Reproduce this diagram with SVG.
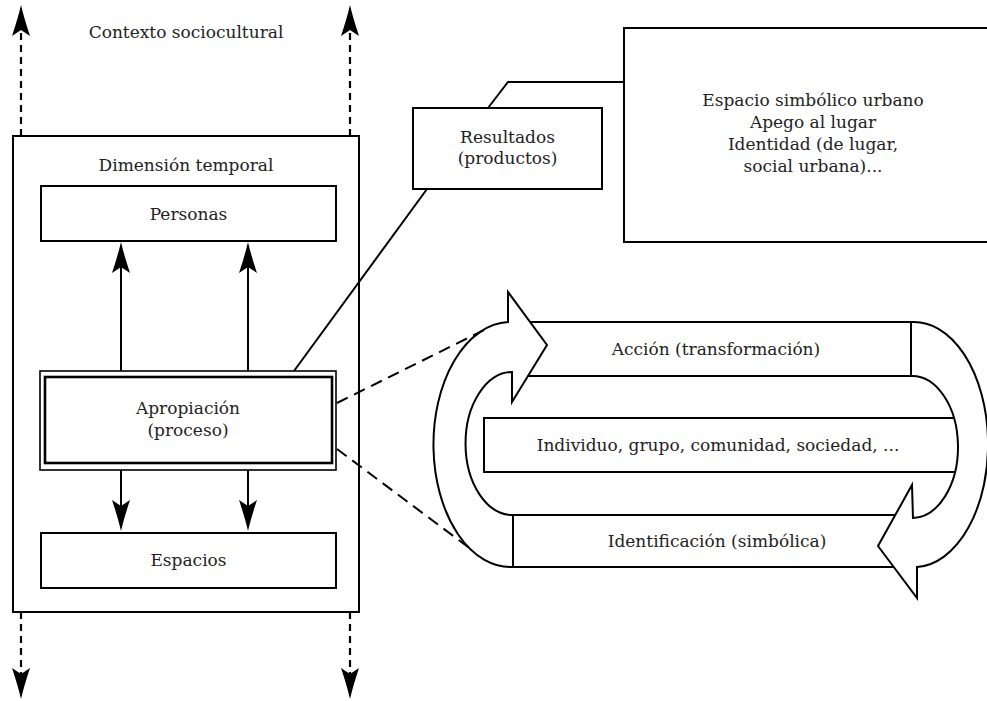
<svg xmlns="http://www.w3.org/2000/svg" width="987" height="701" viewBox="0 0 987 701">
<style>
text{font-family:"DejaVu Serif","Liberation Serif",serif;font-size:17px;fill:#222;text-anchor:middle}
.box{fill:#fff;stroke:#000;stroke-width:2}
.ln{fill:none;stroke:#000;stroke-width:2}
.dash{fill:none;stroke:#000;stroke-width:2.2;stroke-dasharray:7 5}
.dash2{fill:none;stroke:#000;stroke-width:2;stroke-dasharray:12 7}
.shape{fill:#fff;stroke:#000;stroke-width:2;stroke-linejoin:miter}
</style>
<defs>
<marker id="ah" markerUnits="userSpaceOnUse" viewBox="-8 -10 34 20" refX="0" refY="0" markerWidth="34" markerHeight="20" orient="auto" overflow="visible">
<path d="M25,0 Q12,-3 -6,-9 L0,0 L-6,9 Q12,3 25,0 Z" fill="#000" stroke="none"/>
</marker>
</defs>
<rect width="987" height="701" fill="#fff"/>

<g id="contexto">
<text x="186" y="38">Contexto sociocultural</text>
</g>

<g id="dimension-temporal">
<rect class="box" x="13" y="136" width="346" height="476"/>
<text x="186" y="171">Dimensión temporal</text>
</g>

<g id="personas">
<rect class="box" x="41" y="186" width="295" height="55"/>
<text x="188.5" y="220">Personas</text>
</g>

<g id="apropiacion">
<rect x="40" y="371" width="296" height="99" fill="#fff" stroke="#000" stroke-width="1.6"/>
<rect x="45" y="377" width="287" height="86" fill="none" stroke="#000" stroke-width="2.6"/>
<text x="188" y="414">Apropiación</text>
<text x="188" y="436">(proceso)</text>
</g>

<g id="espacios">
<rect class="box" x="41" y="533" width="295" height="55"/>
<text x="188.5" y="566">Espacios</text>
</g>

<g id="resultados">
<rect class="box" x="413" y="108" width="189" height="81"/>
<text x="507.5" y="143">Resultados</text>
<text x="507.5" y="164">(productos)</text>
</g>

<g id="productos">
<rect class="box" x="624" y="28" width="380" height="214"/>
<text x="813" y="106">Espacio simbólico urbano</text>
<text x="813" y="128">Apego al lugar</text>
<text x="813" y="150">Identidad (de lugar,</text>
<text x="813" y="172">social urbana)...</text>
</g>

<g id="ciclo">
<g id="individuo">
<path d="M955,418 H484 V472 H955" fill="#fff" stroke="#000" stroke-width="2"/>
<text x="718" y="451">Individuo, grupo, comunidad, sociedad, ...</text>
</g>
<g id="accion">
<rect class="box" x="515" y="322" width="396" height="54"/>
<text x="716" y="355">Acción (transformación)</text>
</g>
<g id="identificacion">
<rect class="box" x="513" y="515" width="395" height="52"/>
<text x="717" y="547">Identificación (simbólica)</text>
</g>
<g id="flecha-izquierda">
<path class="shape" d="M508,322 L508,292 L547,345 L512,402 L512,372 A47,71.5 0 0 0 513,515 L513,567 A77,122.5 0 0 1 508,322 Z"/>
</g>
<g id="flecha-derecha">
<path class="shape" d="M911,322 A74,122.5 0 0 1 917,567 L917,598 L878,546 L912,485 L913,518 A46,71 0 0 0 911,376 Z"/>
</g>
</g>

<g id="connectors">
<line class="dash" x1="21" y1="136" x2="21" y2="30" marker-end="url(#ah)"/>
<line class="dash" x1="350" y1="136" x2="350" y2="30" marker-end="url(#ah)"/>
<line class="dash" x1="21" y1="612" x2="21" y2="674" marker-end="url(#ah)"/>
<line class="dash" x1="350" y1="612" x2="350" y2="674" marker-end="url(#ah)"/>
<line class="ln" x1="121" y1="371" x2="121" y2="267" marker-end="url(#ah)"/>
<line class="ln" x1="248" y1="371" x2="248" y2="267" marker-end="url(#ah)"/>
<line class="ln" x1="121" y1="470" x2="121" y2="506" marker-end="url(#ah)"/>
<line class="ln" x1="248" y1="470" x2="248" y2="506" marker-end="url(#ah)"/>
<line class="ln" x1="427" y1="189" x2="294" y2="371"/>
<polyline class="ln" points="488,108 508,82 624,82"/>
<line class="dash2" x1="337" y1="403" x2="488" y2="328"/>
<line class="dash2" x1="337" y1="449" x2="472" y2="550"/>
</g>
</svg>
